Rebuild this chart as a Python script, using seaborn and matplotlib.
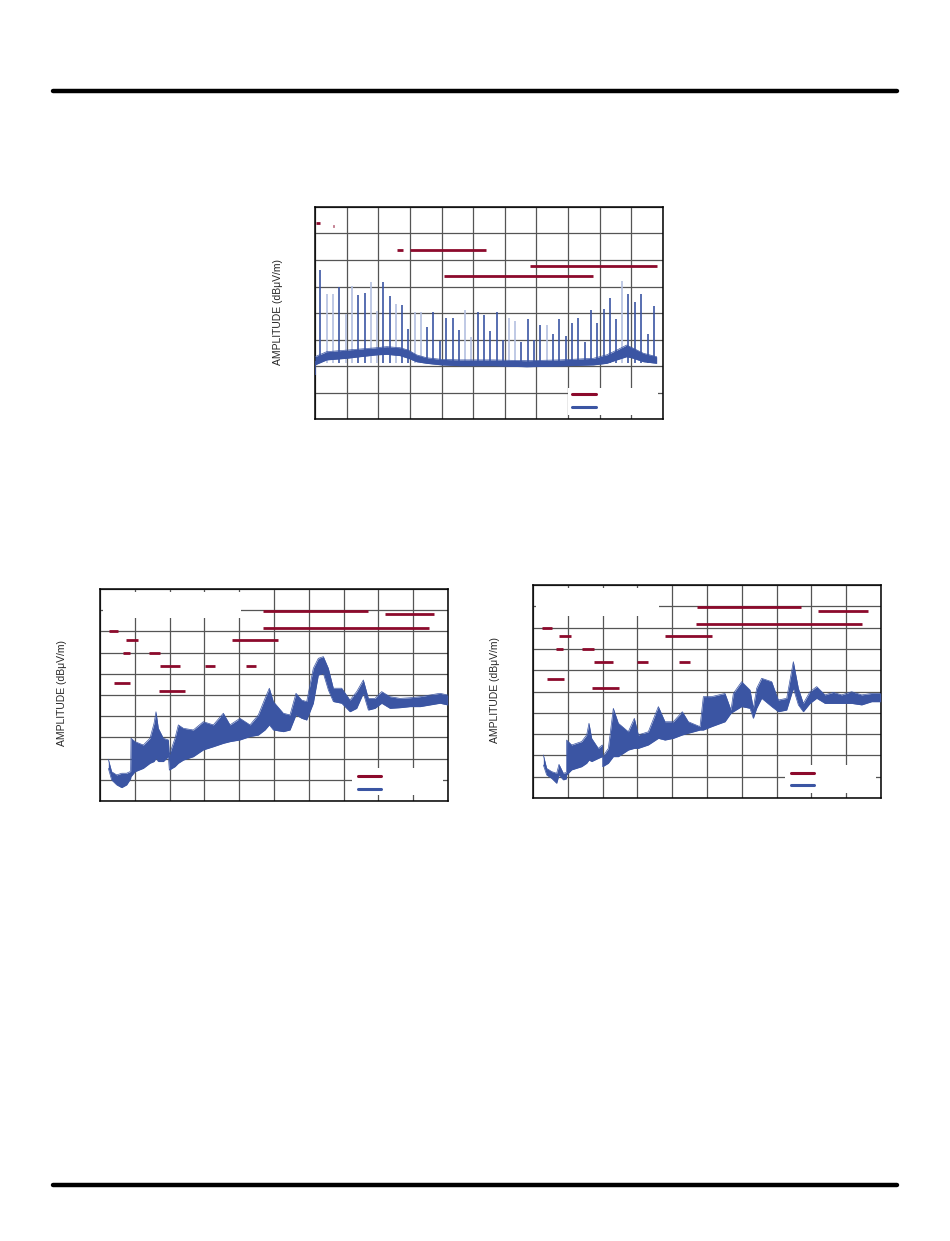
import numpy as np
import pandas as pd
import matplotlib.pyplot as plt
import seaborn as sns

# colours
BLUE = '#3b55a3'
PALE = '#b4c0e0'
RED = '#8c0a2c'
GRID = '#555555'

YLABEL = 'AMPLITUDE (dBμV/m)'

# ---- top chart: radiated emissions with harmonic spikes (x in grid units 0..11, y 0..80)
top_x = [0.00, 0.37, 1.00, 1.42, 1.95, 2.27, 2.69, 2.95, 3.21, 3.53, 4.00, 4.58, 5.64,
         6.69, 7.74, 8.80, 9.22, 9.54, 9.85, 10.06, 10.38, 10.80]
top_lo = [20.4, 22.3, 22.9, 23.5, 24.2, 24.4, 23.9, 22.9, 21.6, 21.0, 20.4, 20.1, 20.1,
          19.7, 20.0, 20.4, 21.0, 22.3, 23.5, 22.9, 21.6, 21.0]
top_hi = [23.5, 25.4, 26.0, 26.4, 26.9, 27.3, 26.9, 26.0, 24.2, 23.1, 22.5, 22.3, 22.3,
          22.0, 22.3, 22.9, 24.2, 26.0, 27.9, 26.7, 24.8, 23.5]

spike_x = [0.169, 0.379, 0.569, 0.769, 0.980, 1.180, 1.370, 1.570, 1.760, 1.949,
           2.160, 2.360, 2.560, 2.761, 2.950, 3.150, 3.351, 3.551, 3.740, 3.951,
           4.151, 4.352, 4.541, 4.731, 4.942, 5.142, 5.342, 5.532, 5.742, 5.932,
           6.132, 6.332, 6.522, 6.722, 6.912, 7.123, 7.323, 7.523, 7.713, 7.923,
           8.124, 8.324, 8.524, 8.714, 8.924, 9.125, 9.314, 9.525, 9.714, 9.904,
           10.125, 10.315, 10.515, 10.705]
spike_top = [56.2, 47.2, 47.2, 49.9, 39.5, 50.3, 46.8, 47.4, 51.8, 40.8,
             51.6, 46.4, 43.4, 43.0, 34.0, 40.3, 40.3, 34.8, 40.5, 29.6,
             38.2, 38.0, 33.6, 41.1, 31.1, 40.3, 39.2, 33.2, 40.5, 29.8,
             38.0, 37.0, 29.2, 37.7, 29.8, 35.5, 35.5, 31.9, 37.7, 31.4,
             36.1, 38.0, 29.2, 41.1, 36.1, 41.4, 45.8, 37.7, 52.1, 47.0,
             44.3, 47.3, 31.9, 42.6]
spike_pale = [0, 1, 1, 0, 1, 1, 0, 0, 1, 1,
              0, 0, 1, 0, 0, 1, 1, 0, 0, 0,
              0, 0, 0, 1, 1, 0, 0, 0, 0, 0,
              1, 1, 0, 0, 0, 0, 1, 0, 0, 0,
              0, 0, 0, 0, 0, 0, 0, 0, 1, 0,
              0, 0, 0, 0]

top_red_x0 = [0.02, 0.57, 2.58, 3.00, 6.81, 4.09]
top_red_x1 = [0.15, 0.60, 2.79, 5.40, 10.81, 8.80]
top_red_y = [74.1, 72.9, 63.8, 63.8, 57.9, 54.1]

# ---- bottom-left chart (x grid units 0..10, y 0..100)
bl_x = [0.239, 0.335, 0.479, 0.623, 0.766, 0.880, 0.891, 1.006, 1.245, 1.437, 1.552, 1.609,
        1.676, 1.820, 1.964, 1.992, 2.155, 2.251, 2.395, 2.682, 2.969, 3.257, 3.544, 3.736,
        4.023, 4.310, 4.550, 4.741, 4.866, 4.981, 5.268, 5.460, 5.632, 5.795, 5.939, 6.130,
        6.274, 6.418, 6.561, 6.705, 6.945, 7.184, 7.376, 7.567, 7.711, 7.902, 8.094, 8.333,
        8.621, 8.908, 9.196, 9.483, 9.770, 9.991]
bl_lo = [15.4, 9.9, 7.6, 6.3, 7.6, 10.5, 11.5, 13.8, 15.4, 17.8, 18.6, 20.1,
         18.6, 18.6, 20.9, 14.6, 16.2, 17.8, 19.3, 20.9, 24.1, 25.6, 27.2, 28.0,
         28.8, 30.4, 31.1, 33.5, 35.9, 33.5, 32.7, 33.5, 40.6, 39.0, 38.2, 46.1,
         59.4, 60.2, 52.4, 46.9, 46.1, 42.1, 43.7, 50.8, 42.9, 43.7, 46.1, 43.7,
         44.0, 44.5, 44.5, 45.3, 46.1, 45.3]
bl_hi = [19.7, 13.8, 12.3, 13.1, 13.1, 14.0, 29.6, 28.0, 26.4, 29.6, 36.6, 42.1,
         34.3, 29.6, 28.8, 21.7, 29.6, 35.9, 34.3, 33.5, 37.4, 35.9, 41.4, 35.9,
         39.0, 35.9, 40.6, 48.4, 53.2, 46.9, 41.4, 40.6, 50.8, 47.6, 46.9, 62.6,
         67.3, 68.1, 62.6, 53.2, 53.2, 47.6, 51.6, 57.1, 48.4, 48.4, 51.6, 49.2,
         48.4, 48.7, 49.2, 50.0, 50.8, 50.0]

bl_red_x0 = [4.694, 8.190, 4.674, 0.268, 0.747, 3.793, 0.661, 1.418, 1.734, 3.008, 4.195, 0.402, 1.705]
bl_red_x1 = [7.692, 9.607, 9.454, 0.527, 1.082, 5.125, 0.862, 1.734, 2.299, 3.295, 4.492, 0.862, 2.452]
bl_red_y = [89.8, 88.4, 81.8, 80.3, 76.1, 76.1, 69.8, 69.8, 63.8, 63.8, 63.8, 55.8, 51.9]

# ---- bottom-right chart (x grid units 0..10, y 0..100)
br_x = [0.297, 0.393, 0.536, 0.680, 0.747, 0.872, 0.960, 0.967, 1.111, 1.398, 1.542, 1.609,
        1.686, 1.877, 1.992, 2.002, 2.165, 2.308, 2.452, 2.739, 2.912, 3.027, 3.314, 3.602,
        3.793, 4.033, 4.291, 4.464, 4.799, 4.895, 5.134, 5.517, 5.690, 5.757, 5.996, 6.236,
        6.331, 6.427, 6.571, 6.858, 7.050, 7.290, 7.481, 7.625, 7.768, 7.960, 8.152, 8.391,
        8.630, 8.870, 9.157, 9.445, 9.732, 9.990]
br_lo = [15.5, 10.8, 9.2, 6.9, 10.8, 8.5, 9.0, 10.8, 13.2, 14.7, 16.3, 17.8,
         17.1, 18.6, 19.4, 14.7, 16.3, 19.4, 19.4, 22.5, 23.3, 23.3, 24.9, 28.0,
         27.2, 28.0, 29.6, 30.4, 31.9, 31.9, 33.5, 35.8, 39.8, 40.5, 42.9, 42.1,
         37.4, 42.1, 46.8, 42.9, 40.5, 41.3, 51.5, 43.7, 40.5, 44.4, 46.8, 44.4,
         44.4, 44.4, 44.4, 43.7, 45.2, 45.2]
br_hi = [20.2, 13.9, 12.4, 11.6, 15.8, 11.6, 12.0, 27.2, 24.9, 26.5, 29.6, 35.1,
         28.0, 23.3, 24.9, 19.4, 23.3, 42.1, 35.1, 31.1, 37.4, 29.6, 31.1, 42.9,
         35.8, 35.8, 40.5, 35.8, 33.5, 47.6, 47.6, 49.1, 41.3, 49.1, 54.6, 50.7,
         42.1, 51.5, 56.2, 54.6, 46.0, 46.8, 64.0, 51.5, 44.4, 49.9, 52.3, 48.4,
         49.6, 48.4, 49.9, 48.4, 49.1, 49.1]

br_red_x0 = [4.713, 8.199, 4.694, 0.268, 0.747, 3.793, 0.670, 1.418, 1.753, 2.998, 4.195, 0.402, 1.705]
br_red_x1 = [7.692, 9.617, 9.454, 0.536, 1.082, 5.134, 0.862, 1.743, 2.299, 3.305, 4.502, 0.881, 2.462]
br_red_y = [89.7, 87.9, 81.7, 80.0, 76.1, 76.1, 70.0, 70.0, 63.8, 63.8, 63.8, 56.0, 51.8]


sns.set_style("white")
plt.rcParams['font.family'] = ['Liberation Sans', 'DejaVu Sans']

fig = plt.figure(figsize=(9.5, 12.41), dpi=100)

# page rules
fig.add_artist(plt.Line2D([53 / 950, 897 / 950], [1 - 91 / 1241] * 2, color='black', lw=3.2))
fig.add_artist(plt.Line2D([53 / 950, 897 / 950], [1 - 1185 / 1241] * 2, color='black', lw=3.2))


def setup(ax, nx, ny, step):
    ax.set_xlim(0, nx)
    ax.set_ylim(0, ny * step)
    ax.set_xticks(np.arange(0, nx + 1))
    ax.set_yticks(np.arange(0, ny * step + 1, step))
    ax.set_xticklabels([])
    ax.set_yticklabels([])
    ax.tick_params(length=0)
    ax.grid(True, color=GRID, lw=0.9)
    ax.set_axisbelow(True)
    for s in ax.spines.values():
        s.set_color('black')
        s.set_linewidth(1.1)


def band(ax, x, lo, hi):
    df = pd.DataFrame({'x': x, 'lo': lo, 'hi': hi})
    ax.fill_between(df['x'], df['lo'], df['hi'], color=BLUE, lw=0, zorder=3)
    sns.lineplot(data=df, x='x', y='lo', ax=ax, color=BLUE, lw=0.5, zorder=3)
    sns.lineplot(data=df, x='x', y='hi', ax=ax, color=BLUE, lw=0.5, zorder=3)
    ax.set_xlabel('')
    ax.set_ylabel('')


def white_box(ax, x0, x1, y0, y1):
    ax.fill_between([x0, x1], [y0, y0], [y1, y1], color='white', lw=0, zorder=2)


def legend_marks(ax, x0, x1, y_red, y_blue):
    ax.plot([x0, x1], [y_red, y_red], color=RED, lw=2.2, zorder=4)
    ax.plot([x0, x1], [y_blue, y_blue], color=BLUE, lw=2.2, zorder=4)


# ---- top chart
ax1 = fig.add_axes([315 / 950, 1 - 419 / 1241, 348 / 950, 212 / 1241])
setup(ax1, 11, 8, 10)
pale = np.array(spike_pale, dtype=bool)
sx = np.array(spike_x)
st = np.array(spike_top)
ax1.vlines(sx[pale], 21, st[pale], color=PALE, lw=1.2, zorder=3)
ax1.vlines(sx[~pale], 21, st[~pale], color=BLUE, lw=1.2, zorder=3)
ax1.vlines([0.01], 16.6, 22, color=BLUE, lw=1.2, zorder=3)
band(ax1, top_x, top_lo, top_hi)
ax1.hlines(top_red_y, top_red_x0, top_red_x1, color=RED, lw=2.0, zorder=4)
white_box(ax1, 8.01, 10.85, 1.5, 11.8)
legend_marks(ax1, 8.13, 8.87, 9.5, 4.6)
fig.text(278 / 950, 1 - 312 / 1241, YLABEL, rotation=90, ha='center', va='center', fontsize=7.5)

# ---- bottom-left chart
ax2 = fig.add_axes([100 / 950, 1 - 801 / 1241, 348 / 950, 212 / 1241])
setup(ax2, 10, 10, 10)
white_box(ax2, 0.09, 4.06, 86.3, 98.6)
band(ax2, bl_x, bl_lo, bl_hi)
ax2.hlines(bl_red_y, bl_red_x0, bl_red_x1, color=RED, lw=2.0, zorder=4)
white_box(ax2, 7.23, 9.87, 2.8, 15.4)
legend_marks(ax2, 7.40, 8.07, 11.8, 5.8)
fig.text(62 / 950, 1 - 693 / 1241, YLABEL, rotation=90, ha='center', va='center', fontsize=7.5)

# ---- bottom-right chart
ax3 = fig.add_axes([533 / 950, 1 - 798 / 1241, 348 / 950, 213 / 1241])
setup(ax3, 10, 10, 10)
white_box(ax3, 0.08, 3.62, 85.6, 98.5)
band(ax3, br_x, br_lo, br_hi)
ax3.hlines(br_red_y, br_red_x0, br_red_x1, color=RED, lw=2.0, zorder=4)
white_box(ax3, 7.23, 9.87, 2.2, 15.5)
legend_marks(ax3, 7.40, 8.08, 11.9, 6.1)
fig.text(495 / 950, 1 - 690 / 1241, YLABEL, rotation=90, ha='center', va='center', fontsize=7.5)

plt.savefig('out.png', dpi=100)
plt.close()
